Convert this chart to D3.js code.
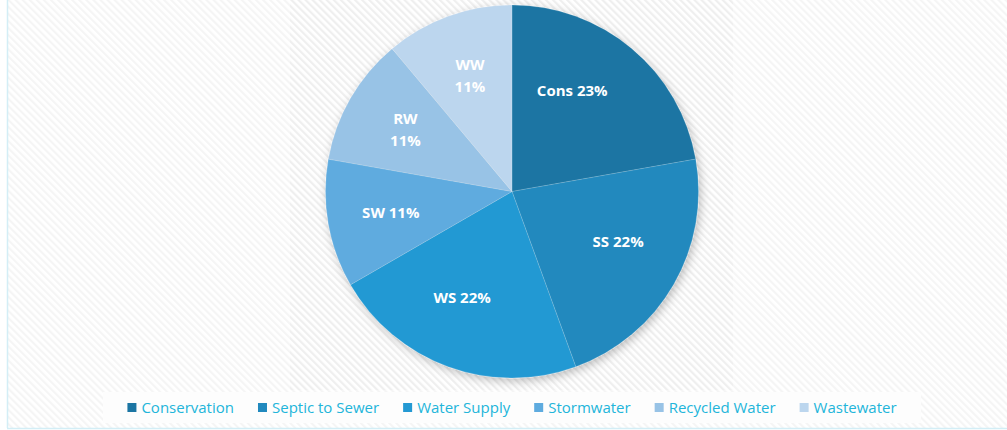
<!DOCTYPE html>
<html>
<head>
<meta charset="utf-8">
<script src="https://cdn.jsdelivr.net/npm/d3@7"></script>
<style>
  body { margin: 0; background: #fff; }
  svg { display: block; }
</style>
</head>
<body>
<div id="chart"></div>
<script>
// pie data
var categories = ["Conservation", "Septic to Sewer", "Water Supply", "Stormwater", "Recycled Water", "Wastewater"];
var values = [2, 2, 2, 1, 1, 1];
var labelLines = [["Cons 23%"], ["SS 22%"], ["WS 22%"], ["SW 11%"], ["RW", "11%"], ["WW", "11%"]];
var colors = ["#1b75a3", "#2189be", "#2499d3", "#5eabdf", "#98c3e6", "#bcd6ee"];

var svgWidth = 1007;
var svgHeight = 430;

var svg = d3.select("#chart")
            .append("svg")
            .attr("width", svgWidth)
            .attr("height", svgHeight);

var defs = svg.append("defs");

// diagonal hatching
function hatch(id, color) {
    var p = defs.append("pattern")
        .attr("id", id)
        .attr("patternUnits", "userSpaceOnUse")
        .attr("width", 5)
        .attr("height", 5)
        .attr("patternTransform", "rotate(-45)");
    p.append("rect").attr("width", 5).attr("height", 5).attr("fill", "#ffffff");
    p.append("rect").attr("width", 2.2).attr("height", 5).attr("fill", color);
}
hatch("hatchOuter", "#f5f5f5");
hatch("hatchPlot", "#efefef");

var shadow = defs.append("filter")
    .attr("id", "shadow")
    .attr("x", "-20%").attr("y", "-20%")
    .attr("width", "140%").attr("height", "140%");
shadow.append("feDropShadow")
    .attr("dx", 2).attr("dy", 3)
    .attr("stdDeviation", 5)
    .attr("flood-color", "#000")
    .attr("flood-opacity", 0.25);

// backgrounds
svg.append("rect")
   .attr("x", 7).attr("y", 0)
   .attr("width", svgWidth - 7).attr("height", 428)
   .attr("fill", "url(#hatchOuter)");

svg.append("rect")
   .attr("x", 290).attr("y", 0)
   .attr("width", 443).attr("height", 390)
   .attr("fill", "url(#hatchPlot)");

svg.append("line")
   .attr("x1", 7.5).attr("x2", 7.5)
   .attr("y1", 0).attr("y2", 428)
   .attr("stroke", "#d3eef6").attr("stroke-width", 1.5);
svg.append("line")
   .attr("x1", 7).attr("x2", svgWidth)
   .attr("y1", 428.5).attr("y2", 428.5)
   .attr("stroke", "#d3eef6").attr("stroke-width", 1.5);

// pie
var cx = 512, cy = 191.5, radius = 186.5;

var pie = d3.pie().sort(null).value(d => d);
var arcs = pie(values);

var arc = d3.arc().innerRadius(0).outerRadius(radius);

var chartGroup = svg.append("g")
    .attr("transform", `translate(${cx}, ${cy})`);

chartGroup.append("g")
    .attr("filter", "url(#shadow)")
    .selectAll("path")
    .data(arcs)
    .enter()
    .append("path")
    .attr("d", arc)
    .attr("fill", (d, i) => colors[i])
    .attr("stroke", "rgba(255,255,255,0.25)")
    .attr("stroke-width", 0.6);

// labels sit near the slice middle, the big ones turned a little (best fit look)
var turn = [-0.16, -0.08, 0.09, 0, 0, 0];
function labelPos(d, i) {
    var a = (d.startAngle + d.endAngle) / 2 + turn[i];
    var r = radius * (i < 3 ? 0.63 : 0.66);
    return [Math.sin(a) * r, -Math.cos(a) * r];
}

var labels = chartGroup.selectAll("text.lbl")
    .data(arcs)
    .enter()
    .append("text")
    .attr("class", "lbl")
    .attr("transform", (d, i) => `translate(${labelPos(d, i)})`)
    .attr("text-anchor", "middle")
    .attr("fill", "#ffffff")
    .attr("font-family", "'Open Sans', sans-serif")
    .attr("font-weight", "bold")
    .attr("font-size", "15px");

labels.each(function(d, i) {
    var lines = labelLines[i];
    var t = d3.select(this);
    var start = -(lines.length - 1) * 11;
    lines.forEach(function(line, j) {
        t.append("tspan")
         .attr("x", 0)
         .attr("y", start + j * 22)
         .attr("dy", "0.35em")
         .text(line);
    });
});

// legend
svg.append("rect")
   .attr("x", 103).attr("y", 392)
   .attr("width", 818).attr("height", 31)
   .attr("fill", "#fdfdfd");

var legend = svg.append("g");
var item = legend.selectAll("g")
    .data(categories)
    .enter()
    .append("g");

item.append("rect")
    .attr("width", 9).attr("height", 9)
    .attr("y", 403)
    .attr("fill", (d, i) => colors[i]);

item.append("text")
    .attr("x", 14)
    .attr("y", 408)
    .attr("dy", "0.35em")
    .attr("fill", "#22b5da")
    .attr("font-family", "'Open Sans', sans-serif")
    .attr("font-size", "15px")
    .text(d => d);

var xPos = 0;
var offsets = [];
item.each(function() {
    offsets.push(xPos);
    var w = d3.select(this).select("text").node().getComputedTextLength();
    xPos += 14 + w + 24;
});
var totalW = xPos - 24;
var startX = 512 - totalW / 2;
item.attr("transform", (d, i) => `translate(${startX + offsets[i]}, 0)`);
</script>
</body>
</html>
